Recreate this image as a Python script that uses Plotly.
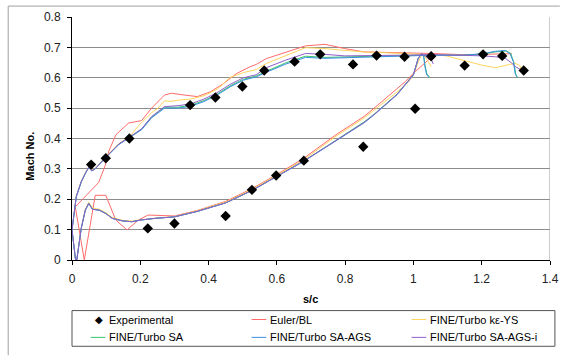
import plotly.graph_objects as go

# Axis ticks
mach_ticks = [0, 0.1, 0.2, 0.3, 0.4, 0.5, 0.6, 0.7, 0.8]
mach_tick_text = ["0", "0.1", "0.2", "0.3", "0.4", "0.5", "0.6", "0.7", "0.8"]
sc_ticks = [0, 0.2, 0.4, 0.6, 0.8, 1.0, 1.2, 1.4]
sc_tick_text = ["0", "0.2", "0.4", "0.6", "0.8", "1", "1.2", "1.4"]

# Experimental isentropic Mach number along the blade surface
exp_sc = [0.056, 0.099, 0.168, 0.222, 0.300, 0.346, 0.420, 0.450, 0.499, 0.527, 0.563, 0.598,
          0.652, 0.679, 0.727, 0.823, 0.853, 0.892, 0.974, 1.005, 1.052, 1.150, 1.204, 1.260, 1.323]
exp_mach = [0.314, 0.335, 0.400, 0.104, 0.120, 0.510, 0.535, 0.145, 0.571, 0.231, 0.624, 0.278,
            0.653, 0.327, 0.677, 0.644, 0.373, 0.673, 0.669, 0.498, 0.671, 0.640, 0.677, 0.672, 0.624]

# Euler/BL: suction side from trailing edge to leading edge, then pressure side
euler_sc = [1.288, 1.144, 1.050, 0.950, 0.856, 0.799, 0.741, 0.684, 0.626, 0.569, 0.540, 0.521,
            0.482, 0.444, 0.406, 0.367, 0.329, 0.291, 0.271, 0.233, 0.204, 0.166, 0.129, 0.108,
            0.097, 0.078, 0.0096,
            0.036, 0.068, 0.099, 0.128, 0.161, 0.195, 0.223, 0.300, 0.367, 0.450, 0.527, 0.598,
            0.679, 0.770, 0.856, 0.885, 0.952, 0.976, 1.000, 1.053, 1.070]
euler_mach = [0.679, 0.676, 0.680, 0.682, 0.685, 0.696, 0.710, 0.705, 0.685, 0.663, 0.644, 0.636,
              0.614, 0.581, 0.554, 0.538, 0.543, 0.549, 0.543, 0.500, 0.459, 0.451, 0.413, 0.359,
              0.310, 0.255, 0.175,
              0.000, 0.213, 0.213, 0.132, 0.099, 0.132, 0.148, 0.145, 0.163, 0.193, 0.235, 0.280,
              0.335, 0.410, 0.473, 0.500, 0.565, 0.587, 0.615, 0.668, 0.679]

# FINE/Turbo k-epsilon YS
ke_sc = [1.317, 1.312, 1.298, 1.269, 1.240, 1.202, 1.144, 1.096, 1.050, 0.950, 0.856, 0.799,
         0.741, 0.684, 0.626, 0.569, 0.540, 0.502, 0.463, 0.425, 0.387, 0.348, 0.310, 0.290,
         0.271, 0.252, 0.233, 0.195, 0.168, 0.137, 0.099, 0.068, 0.058, 0.049, 0.041, 0.027,
         0.0125, 0.0,
         0.0105, 0.014, 0.027, 0.039, 0.049, 0.060, 0.080, 0.099, 0.118, 0.147, 0.175, 0.204,
         0.243, 0.300, 0.367, 0.450, 0.527, 0.598, 0.679, 0.770, 0.856, 0.952, 0.985, 1.000,
         1.015, 1.024, 1.035, 1.045, 1.052]
ke_mach = [0.620, 0.640, 0.648, 0.640, 0.633, 0.641, 0.659, 0.672, 0.676, 0.680, 0.685, 0.690,
           0.696, 0.699, 0.674, 0.647, 0.627, 0.617, 0.601, 0.562, 0.541, 0.530, 0.526, 0.522,
           0.524, 0.500, 0.485, 0.442, 0.405, 0.383, 0.340, 0.302, 0.296, 0.306, 0.291, 0.259,
           0.210, 0.099,
           0.000, 0.000, 0.106, 0.167, 0.190, 0.171, 0.167, 0.156, 0.140, 0.131, 0.128, 0.133,
           0.138, 0.143, 0.162, 0.191, 0.232, 0.278, 0.330, 0.405, 0.468, 0.553, 0.585, 0.610,
           0.655, 0.674, 0.668, 0.650, 0.636]

# FINE/Turbo SA
sa_sc = [1.306, 1.300, 1.294, 1.285, 1.272, 1.240, 1.202, 1.144, 1.050, 0.950, 0.856, 0.799,
         0.741, 0.684, 0.626, 0.569, 0.540, 0.502, 0.463, 0.425, 0.387, 0.348, 0.310, 0.271,
         0.233, 0.204, 0.168, 0.137, 0.099, 0.068, 0.058, 0.049, 0.041, 0.027, 0.0125, 0.0,
         0.0105, 0.014, 0.027, 0.039, 0.049, 0.060, 0.080, 0.099, 0.118, 0.147, 0.175, 0.204,
         0.243, 0.300, 0.367, 0.450, 0.527, 0.598, 0.679, 0.770, 0.856, 0.885, 0.952, 1.000,
         1.014, 1.024, 1.030, 1.034, 1.040, 1.046, 1.044]
sa_mach = [0.600, 0.610, 0.650, 0.680, 0.688, 0.685, 0.678, 0.674, 0.675, 0.672, 0.671, 0.668,
           0.667, 0.671, 0.649, 0.621, 0.606, 0.595, 0.573, 0.546, 0.525, 0.509, 0.503, 0.503,
           0.471, 0.431, 0.403, 0.381, 0.338, 0.300, 0.294, 0.304, 0.289, 0.257, 0.208, 0.099,
           0.000, 0.000, 0.104, 0.164, 0.186, 0.167, 0.164, 0.153, 0.137, 0.129, 0.126, 0.132,
           0.137, 0.142, 0.160, 0.188, 0.229, 0.275, 0.326, 0.392, 0.455, 0.480, 0.546, 0.611,
           0.664, 0.680, 0.672, 0.640, 0.610, 0.605, 0.600]

# FINE/Turbo SA-AGS
ags_sc = [1.303, 1.298, 1.293, 1.283, 1.269, 1.240, 1.202, 1.144, 1.050, 0.950, 0.856, 0.799,
          0.741, 0.684, 0.626, 0.569, 0.540, 0.502, 0.463, 0.425, 0.387, 0.348, 0.310, 0.271,
          0.233, 0.204, 0.168, 0.137, 0.099, 0.068, 0.058, 0.049, 0.041, 0.027, 0.0125, 0.0,
          0.0105, 0.014, 0.027, 0.039, 0.049, 0.060, 0.080, 0.099, 0.118, 0.147, 0.175, 0.204,
          0.243, 0.300, 0.367, 0.450, 0.527, 0.598, 0.679, 0.770, 0.856, 0.885, 0.952, 1.000,
          1.014, 1.024, 1.030, 1.033, 1.039, 1.046]
ags_mach = [0.603, 0.614, 0.652, 0.679, 0.690, 0.687, 0.679, 0.674, 0.674, 0.671, 0.669, 0.666,
            0.664, 0.667, 0.645, 0.618, 0.603, 0.592, 0.570, 0.543, 0.522, 0.506, 0.500, 0.500,
            0.468, 0.429, 0.402, 0.380, 0.337, 0.300, 0.293, 0.304, 0.289, 0.257, 0.208, 0.099,
            0.000, 0.000, 0.104, 0.164, 0.186, 0.167, 0.164, 0.153, 0.137, 0.129, 0.126, 0.132,
            0.137, 0.142, 0.160, 0.188, 0.229, 0.274, 0.325, 0.390, 0.452, 0.478, 0.544, 0.609,
            0.663, 0.679, 0.672, 0.640, 0.609, 0.603]

# FINE/Turbo SA-AGS-i
agsi_sc = [1.321, 1.310, 1.298, 1.288, 1.269, 1.240, 1.202, 1.144, 1.050, 0.950, 0.856, 0.799,
           0.741, 0.684, 0.626, 0.569, 0.540, 0.502, 0.463, 0.425, 0.387, 0.348, 0.310, 0.271,
           0.233, 0.204, 0.168, 0.137, 0.099, 0.068, 0.058, 0.049, 0.041, 0.027, 0.0125, 0.0,
           0.0105, 0.014, 0.027, 0.039, 0.049, 0.060, 0.080, 0.099, 0.118, 0.147, 0.175, 0.204,
           0.243, 0.300, 0.367, 0.450, 0.527, 0.598, 0.679, 0.770, 0.856, 0.885, 0.952, 1.000,
           1.014, 1.024, 1.032, 1.042, 1.055, 1.058]
agsi_mach = [0.622, 0.628, 0.637, 0.648, 0.664, 0.669, 0.672, 0.674, 0.676, 0.674, 0.674, 0.672,
             0.677, 0.680, 0.658, 0.633, 0.610, 0.600, 0.578, 0.551, 0.530, 0.514, 0.508, 0.505,
             0.472, 0.432, 0.404, 0.382, 0.338, 0.301, 0.294, 0.305, 0.290, 0.258, 0.209, 0.099,
             0.000, 0.000, 0.104, 0.164, 0.186, 0.167, 0.164, 0.153, 0.137, 0.129, 0.126, 0.132,
             0.137, 0.142, 0.160, 0.188, 0.229, 0.275, 0.326, 0.391, 0.453, 0.479, 0.545, 0.610,
             0.664, 0.679, 0.674, 0.664, 0.655, 0.645]

series = [
    ("Euler/BL", euler_sc, euler_mach, "#ff6b6b"),
    ("FINE/Turbo kε-YS", ke_sc, ke_mach, "#ffd45c"),
    ("FINE/Turbo SA", sa_sc, sa_mach, "#35c46a"),
    ("FINE/Turbo SA-AGS", ags_sc, ags_mach, "#3a8fe0"),
    ("FINE/Turbo SA-AGS-i", agsi_sc, agsi_mach, "#9060c8"),
]

FONT = "Liberation Sans, Arial, sans-serif"

fig = go.Figure()
for name, xs, ys, col in series:
    fig.add_trace(go.Scatter(x=xs, y=ys, mode="lines", name=name,
                             line=dict(color=col, width=1), showlegend=False))
fig.add_trace(go.Scatter(x=exp_sc, y=exp_mach, mode="markers", name="Experimental",
                         marker=dict(symbol="diamond", size=8, color="black"),
                         showlegend=False))

# Plot-area geometry in pixels (used to place legend pieces in paper units)
W, H = 569, 356
L, R, T, B = 72, 10, 15, 96
PW, PH = W - L - R, H - T - B


def px(x):
    return (x - L) / PW


def py(y):
    return (H - B - y) / PH


shapes = []
annotations = []

# right border of the plot area
shapes.append(dict(type="line", xref="x", yref="y", x0=1.4, x1=1.4, y0=0, y1=0.8,
                   line=dict(color="#9a9a9a", width=1)))
# outer chart frame (left and top edges)
shapes.append(dict(type="line", xref="paper", yref="paper", x0=px(7), x1=px(7),
                   y0=py(356), y1=py(4), line=dict(color="#a0a0a0", width=1)))
shapes.append(dict(type="line", xref="paper", yref="paper", x0=px(7), x1=px(569),
                   y0=py(4), y1=py(4), line=dict(color="#a0a0a0", width=1)))

# legend frame
shapes.append(dict(type="rect", xref="paper", yref="paper", x0=px(72), x1=px(564),
                   y0=py(347), y1=py(311), line=dict(color="#555555", width=1)))

legend_items = [
    ("Experimental", None, 108, 320),
    ("Euler/BL", "#ff6b6b", 272, 320),
    ("FINE/Turbo kε-YS", "#ffd45c", 435, 320),
    ("FINE/Turbo SA", "#35c46a", 108, 338),
    ("FINE/Turbo SA-AGS", "#3a8fe0", 272, 338),
    ("FINE/Turbo SA-AGS-i", "#9060c8", 435, 338),
]
for label, col, tx, ty in legend_items:
    if col is None:
        annotations.append(dict(xref="paper", yref="paper", x=px(99), y=py(ty), text="◆",
                                showarrow=False, font=dict(size=10, color="black", family=FONT),
                                xanchor="center", yanchor="middle"))
    else:
        shapes.append(dict(type="line", xref="paper", yref="paper", x0=px(tx - 17),
                           x1=px(tx - 2), y0=py(ty), y1=py(ty), line=dict(color=col, width=1)))
    annotations.append(dict(xref="paper", yref="paper", x=px(tx), y=py(ty), text=label,
                            showarrow=False, font=dict(size=11, color="black", family=FONT),
                            xanchor="left", yanchor="middle"))

# axis titles
annotations.append(dict(xref="paper", yref="paper", x=px(315), y=py(299), text="<b>s/c</b>",
                        showarrow=False, font=dict(size=11, color="black", family=FONT),
                        xanchor="center", yanchor="middle"))
annotations.append(dict(xref="paper", yref="paper", x=px(29), y=py(155), text="<b>Mach No.</b>",
                        showarrow=False, textangle=-90,
                        font=dict(size=11, color="black", family=FONT),
                        xanchor="center", yanchor="middle"))

fig.update_layout(
    width=W, height=H,
    margin=dict(l=L, r=R, t=T, b=B),
    paper_bgcolor="white", plot_bgcolor="white",
    font=dict(family=FONT, size=12, color="black"),
    shapes=shapes, annotations=annotations,
    showlegend=False,
)
fig.update_xaxes(range=[0, 1.4], tickmode="array", tickvals=sc_ticks, ticktext=sc_tick_text,
                 showgrid=False, zeroline=False, showline=True, linecolor="black", linewidth=1,
                 ticks="outside", ticklen=4, tickcolor="black", ticklabelstandoff=4,
                 tickfont=dict(size=12, color="#222222"))
fig.update_yaxes(range=[0, 0.8], tickmode="array", tickvals=mach_ticks, ticktext=mach_tick_text,
                 showgrid=True, gridcolor="#8c8c8c", gridwidth=1, zeroline=False,
                 showline=True, linecolor="black", linewidth=1,
                 ticks="outside", ticklen=4, tickcolor="black", ticklabelstandoff=4,
                 tickfont=dict(size=12, color="#222222"))

fig.write_html("out.html")
